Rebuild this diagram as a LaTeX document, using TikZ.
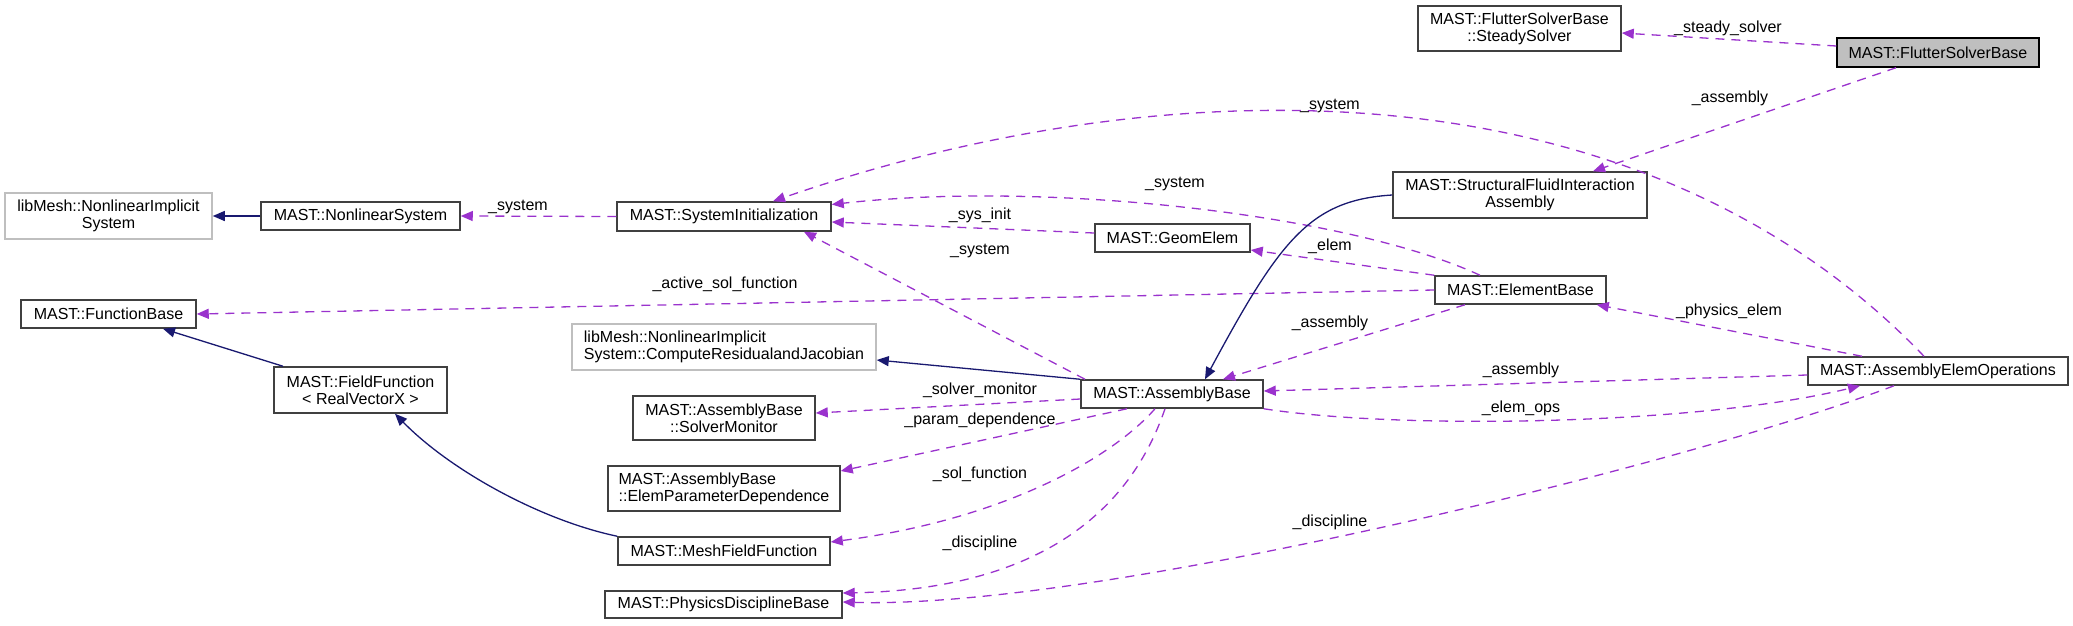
\documentclass[tikz,border=0pt]{standalone}
\usepackage{fontspec}
\setmainfont{Liberation Sans}
\usetikzlibrary{arrows.meta}
\definecolor{edgep}{HTML}{9A32CD}
\definecolor{edgen}{HTML}{191970}
\definecolor{grayb}{HTML}{BFBFBF}
\definecolor{boxb}{HTML}{404040}
\begin{document}
\begin{tikzpicture}[x=1pt,y=-1pt,
  box/.style={draw=boxb, line width=1.5pt, fill=white, inner sep=0pt, align=center,
    font=\fontsize{16}{17}\selectfont},
  gbox/.style={box, draw=grayb},
  lbl/.style={inner sep=0pt, font=\fontsize{16}{17}\selectfont},
  dep/.style={draw=edgep, line width=1.3pt, dash pattern=on 9pt off 7pt,
    -{Triangle[length=12pt,width=10pt]}},
  inh/.style={draw=edgen, line width=1.3pt, -{Triangle[length=12pt,width=10pt]}}]
\useasboundingbox (0,0) rectangle (2073,625);

% nodes
\node[box, minimum width=203pt, minimum height=45pt] (ss) at (1519.5,28.5) {MAST::FlutterSolverBase\\::SteadySolver};
\node[box, fill=grayb, draw=black, minimum width=202pt, minimum height=29pt] (fsb) at (1938,52.5) {MAST::FlutterSolverBase};
\node[box, minimum width=254pt, minimum height=46pt] (sfia) at (1520,195) {MAST::StructuralFluidInteraction\\Assembly};
\node[gbox, minimum width=207pt, minimum height=46pt] (lnis) at (108.5,216) {libMesh::NonlinearImplicit\\System};
\node[box, minimum width=199pt, minimum height=28pt] (ns) at (360.5,216) {MAST::NonlinearSystem};
\node[box, minimum width=214pt, minimum height=29pt] (si) at (724,216.5) {MAST::SystemInitialization};
\node[box, minimum width=155pt, minimum height=28pt] (ge) at (1172.5,238) {MAST::GeomElem};
\node[box, minimum width=175pt, minimum height=28pt] (fb) at (108.5,314) {MAST::FunctionBase};
\node[box, minimum width=171pt, minimum height=28pt] (eb) at (1520.5,290) {MAST::ElementBase};
\node[box, minimum width=173pt, minimum height=46pt] (ff) at (360.5,390) {MAST::FieldFunction\\< RealVectorX >};
\node[gbox, align=left, minimum width=304pt, minimum height=46pt] (crj) at (724,347) {libMesh::NonlinearImplicit\\System::ComputeResidualandJacobian};
\node[box, minimum width=182pt, minimum height=28pt] (ab) at (1172,394) {MAST::AssemblyBase};
\node[box, minimum width=182pt, minimum height=44pt] (sm) at (724,418) {MAST::AssemblyBase\\::SolverMonitor};
\node[box, minimum width=260pt, minimum height=28pt] (aeo) at (1938,371) {MAST::AssemblyElemOperations};
\node[box, align=left, minimum width=232pt, minimum height=45pt] (epd) at (724,488.5) {MAST::AssemblyBase\\::ElemParameterDependence};
\node[box, minimum width=212pt, minimum height=28pt] (mff) at (724,551) {MAST::MeshFieldFunction};
\node[box, minimum width=237pt, minimum height=27pt] (pdb) at (723.5,604.5) {MAST::PhysicsDisciplineBase};

% member (dashed) edges
\draw[dep] ([yshift=6.5pt]fsb.west) -- ([yshift=-4.5pt]ss.east);
\draw[dep] ([xshift=-42pt]fsb.south) -- ([xshift=73pt]sfia.north);
\draw[dep] ([xshift=-14pt]aeo.north) .. controls (1640,60) and (1169,64) .. ([xshift=49pt]si.north);
\draw[dep] ([xshift=-40.5pt]eb.north) .. controls (1350,215) and (1050,180) .. ([yshift=12pt]si.east);
\draw[dep] ([yshift=5pt]ge.west) -- ([yshift=-5.5pt]si.east);
\draw[dep] ([xshift=-87pt]ab.north) -- ([xshift=80pt]si.south);
\draw[dep] (si.west) -- (ns.east);
\draw[dep] (eb.north west) -- ([yshift=-12pt]ge.east);
\draw[dep] (eb.west) -- (fb.east);
\draw[dep] ([xshift=-55.5pt]eb.south) -- ([xshift=51pt]ab.north);
\draw[dep] ([xshift=-76pt]aeo.north) -- ([xshift=-10pt]eb.south east);
\draw[dep] ([yshift=-4pt]aeo.west) -- ([yshift=3pt]ab.east);
\draw[dep] (ab.south east) .. controls (1400,430) and (1700,425) .. ([xshift=-78pt]aeo.south);
\draw[dep] ([xshift=-44pt]aeo.south) .. controls (1700,460) and (1100,610) .. ([yshift=2.5pt]pdb.east);
\draw[dep] ([yshift=-5pt]ab.west) -- ([yshift=5pt]sm.east);
\draw[dep] ([xshift=-45pt]ab.south) -- ([yshift=17.5pt]epd.east);
\draw[dep] ([xshift=-17pt]ab.south) .. controls (1110,460) and (1000,520) .. ([yshift=9pt]mff.east);
\draw[dep] ([xshift=-7pt]ab.south) .. controls (1120,540) and (1000,590) .. ([yshift=11.5pt]pdb.east);

% inheritance edges
\draw[inh] (ns.west) -- (lnis.east);
\draw[inh] ([xshift=-77.5pt]ff.north) -- ([xshift=54.5pt]fb.south);
\draw[inh] (mff.north west) .. controls (540,520) and (450,470) .. ([xshift=34.5pt]ff.south);
\draw[inh] (ab.north west) -- ([yshift=-13pt]crj.east);
\draw[inh] (sfia.west) .. controls (1310,200) and (1280,240) .. ([xshift=33pt]ab.north);

% labels
\node[lbl] (l1) at (1728,28) {\_steady\_solver};
\node[lbl] (l2) at (1730,98) {\_assembly};
\node[lbl] (l3) at (1330,106) {\_system};
\node[lbl] (l4) at (1175,184) {\_system};
\node[lbl] (l5) at (980,215) {\_sys\_init};
\node[lbl] (l6) at (980,251) {\_system};
\node[lbl] (l7) at (518,207) {\_system};
\node[lbl] (l8) at (1330,246) {\_elem};
\node[lbl] (l9) at (725,284) {\_active\_sol\_function};
\node[lbl] (l10) at (1330,323) {\_assembly};
\node[lbl] (l11) at (1729,311) {\_physics\_elem};
\node[lbl] (l12) at (1521,370) {\_assembly};
\node[lbl] (l13) at (1521,408) {\_elem\_ops};
\node[lbl] (l14) at (980,390) {\_solver\_monitor};
\node[lbl] (l15) at (980,420) {\_param\_dependence};
\node[lbl] (l16) at (980,474) {\_sol\_function};
\node[lbl] (l17) at (980,543) {\_discipline};
\node[lbl] (l18) at (1330,522) {\_discipline};
\end{tikzpicture}
\end{document}
